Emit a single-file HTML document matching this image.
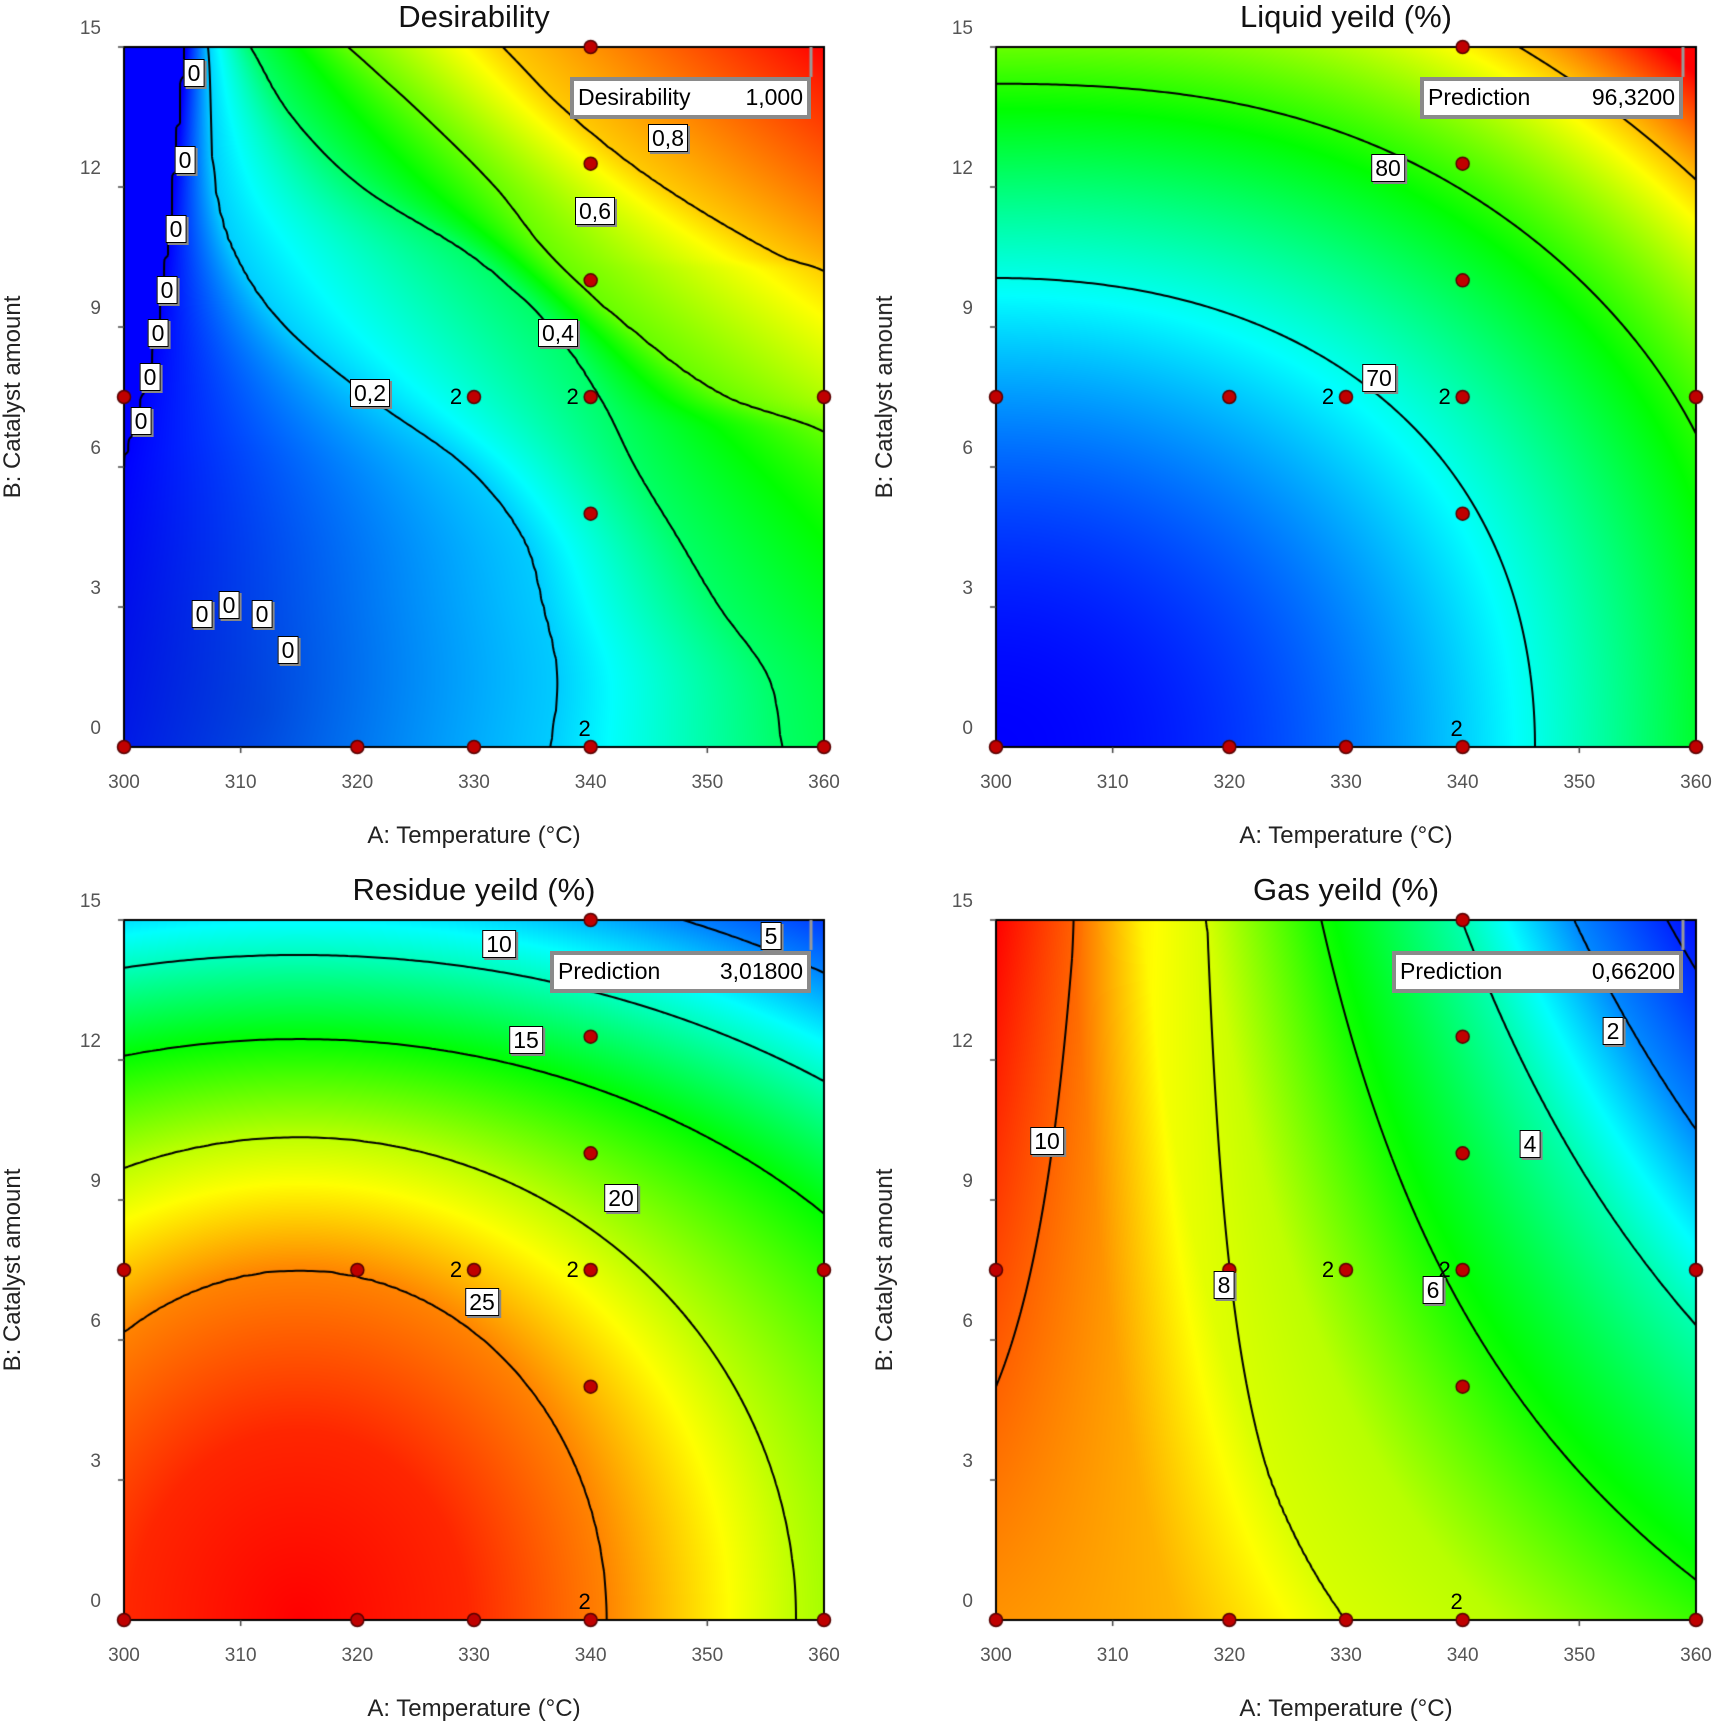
<!DOCTYPE html>
<html><head><meta charset="utf-8">
<style>
html,body{margin:0;padding:0;background:#fff;}
body{width:1717px;height:1726px;position:relative;overflow:hidden;font-family:"Liberation Sans",sans-serif;}
canvas{position:absolute;left:0;top:0;}
.tick{position:absolute;font-size:19px;color:#555;white-space:nowrap;}
.ttl{position:absolute;font-size:31px;color:#111;transform:translate(-50%,-50%);white-space:nowrap;}
.xl{position:absolute;font-size:24px;color:#222;transform:translate(-50%,-50%);white-space:nowrap;}
.yl{position:absolute;font-size:24px;color:#222;transform:translate(-50%,-50%) rotate(-90deg);white-space:nowrap;}
.lb{position:absolute;background:#fff;border:1.5px solid #000;font-size:23px;line-height:26px;padding:0 3px;transform:translate(-50%,-50%);box-shadow:2px 2px 0 #888;white-space:nowrap;}
.pb{position:absolute;background:#fff;border:4px solid #8a8a8a;font-size:23px;line-height:32px;padding:0 4px;display:flex;justify-content:space-between;box-sizing:border-box;}
.two{position:absolute;font-size:22px;transform:translate(-50%,-50%);}
</style></head><body>
<canvas id="c" width="1717" height="1726"></canvas>
<div id="txt"></div>
<script>
const P=[{ox:124,oy:47,t:"Desirability"},{ox:996,oy:47,t:"Liquid yeild (%)"},{ox:124,oy:920,t:"Residue yeild (%)"},{ox:996,oy:920,t:"Gas yeild (%)"}];
const W=700,H=700;
function lin(tab,v){if(v<=tab[0][0])return tab[0][1];for(let i=1;i<tab.length;i++){if(v<=tab[i][0]){const a=tab[i-1],b=tab[i];return a[1]+(b[1]-a[1])*(v-a[0])/(b[0]-a[0]);}}return tab[tab.length-1][1];}
function smooth(tab,v){const n=tab.length;if(v<=tab[0][0])return tab[0][1];if(v>=tab[n-1][0])return tab[n-1][1];
 let i=1;while(tab[i][0]<v)i++;const a=tab[i-1],b=tab[i];
 const sl=k=>{const p=tab[Math.max(0,k-1)],q=tab[Math.min(n-1,k+1)];return (q[1]-p[1])/(q[0]-p[0]);};
 const h=b[0]-a[0],t=(v-a[0])/h,m0=sl(i-1)*h,m1=sl(i)*h;
 const t2=t*t,t3=t2*t;return (2*t3-3*t2+1)*a[1]+(t3-2*t2+t)*m0+(-2*t3+3*t2)*b[1]+(t3-t2)*m1;}
const DT=[
[[0,-.1],[.2,-.05],[.4,0],[.6,.05],[1,.09]],
[[0,.61],[.1,.62],[.2,.6],[.3,.57],[.4,.49],[.5,.35],[.6,.23],[.7,.16],[.8,.13],[1,.12]],
[[0,.94],[.1,.92],[.2,.85],[.3,.79],[.4,.73],[.5,.68],[.6,.61],[.7,.5],[.8,.34],[.9,.24],[1,.18]],
[[0,1.5],[.3,1.2],[.45,1.0],[.5,.86],[.6,.72],[.7,.61],[.8,.53],[.9,.43],[1,.32]],
[[0,2],[.4,1.4],[.68,1.0],[.7,.94],[.8,.77],[.9,.64],[1,.54]],
[[0,2.6],[.5,1.7],[1,1.0]]];
const DL=[0,.2,.4,.6,.8,1];
let rowCache={};
function Dfun(x,y){const k=Math.round(y*3000);let xs=rowCache[k];if(!xs){xs=DT.map(t=>smooth(t,y));rowCache[k]=xs;}
 if(x<=xs[0])return 0; for(let i=1;i<xs.length;i++){if(x<=xs[i])return DL[i-1]+(DL[i]-DL[i-1])*(x-xs[i-1])/(xs[i]-xs[i-1]);}return 1;}
function Lfun(x,y){return 60+10*(x*x/0.5929+y*y/0.4489-1.2*x*x*y*y*(1-x*y));}
// residue: nested ellipses centred (0.25,0)
const RA=[[0,0.0001],[1,.24],[3.5,.44],[8.5,.71],[13.5,1.05],[18.5,1.28],[23.5,1.45],[27,1.6],[40,2.5]];
const RB=[[0,0.0001],[1,.27],[3.5,.5],[8.5,.69],[13.5,.83],[18.5,.95],[23.5,1.08],[27,1.2],[40,1.8]];
function Rfun(x,y){const dx=x-.25;let lo=0,hi=40;
 for(let it=0;it<22;it++){const m=(lo+hi)/2;const a=lin(RA,m),b=lin(RB,m);const f=dx*dx/(a*a)+y*y/(b*b);if(f>1)lo=m;else hi=m;}
 return 28.5-(lo+hi)/2;}
const GT=[[0,10.1],[.26,9.4],[.5,8.07],[.72,7.7],[1.08,6],[1.59,4],[1.98,2],[2.3,1],[2.5,0.5]];
function Gfun(x,y){const w=x*(1+1.4*y);return lin(GT,w)+1.5*(y-.4)*Math.pow(1-x,3);}
const F=[{f:Dfun,lo:0,hi:1,lv:[1e-4,.2,.4,.6,.8]},{f:Lfun,lo:60,hi:97,lv:[70,80,90]},{f:Rfun,lo:1.5,hi:28.5,lv:[5,10,15,20,25]},{f:Gfun,lo:0.6,hi:11,lv:[1,2,4,6,8,10]}];
function cmap(t){t=Math.max(0,Math.min(1,t));let r,g,b;
 if(t<.25){r=0;g=t/.25*255;b=255;}else if(t<.5){r=0;g=255;b=255*(1-(t-.25)/.25);}else if(t<.75){r=255*(t-.5)/.25;g=255;b=0;}else{r=255;g=255*(1-(t-.75)/.25);b=0;}
 return [r,g,b];}
const c=document.getElementById('c'),ctx=c.getContext('2d');
ctx.fillStyle='#fff';ctx.fillRect(0,0,1717,1726);
P.forEach((p,pi)=>{const fn=F[pi];const img=ctx.createImageData(W,H);
 for(let j=0;j<H;j++){const y=1-(j+.5)/H;for(let i=0;i<W;i++){const x=(i+.5)/W;let v=fn.f(x,y);let t=(v-fn.lo)/(fn.hi-fn.lo);
  const col=cmap(t);let r=col[0],g=col[1],b=col[2];
  if(pi==0){const d=Math.hypot(x-.2,y-.05);const k=Math.max(0,1-d/.4)*0.25*Math.max(0,1-t/.2);r*=1-k;g*=1-k;b*=1-k*0.9;}
  const o=(j*W+i)*4;img.data[o]=r;img.data[o+1]=g;img.data[o+2]=b;img.data[o+3]=255;}}
 ctx.putImageData(img,p.ox,p.oy);
 const N=175,st=W/N;const grid=[];for(let j=0;j<=N;j++){grid[j]=[];for(let i=0;i<=N;i++){grid[j][i]=fn.f(i/N,1-j/N);}}
 ctx.strokeStyle='#000';ctx.lineWidth=2;ctx.save();ctx.beginPath();ctx.rect(p.ox,p.oy,W,H);ctx.clip();
 fn.lv.forEach(L=>{ctx.beginPath();
  for(let j=0;j<N;j++)for(let i=0;i<N;i++){const a=grid[j][i],b=grid[j][i+1],cc=grid[j+1][i+1],d=grid[j+1][i];
   const pts=[];const e=(v1,v2,x1,y1,x2,y2)=>{if((v1<L)!=(v2<L)){const t=(L-v1)/(v2-v1);pts.push([x1+(x2-x1)*t,y1+(y2-y1)*t]);}};
   e(a,b,i,j,i+1,j);e(b,cc,i+1,j,i+1,j+1);e(cc,d,i+1,j+1,i,j+1);e(d,a,i,j+1,i,j);
   for(let k=0;k+1<pts.length;k+=2){ctx.moveTo(p.ox+pts[k][0]*st,p.oy+pts[k][1]*st);ctx.lineTo(p.ox+pts[k+1][0]*st,p.oy+pts[k+1][1]*st);}}
  ctx.stroke();});
 ctx.restore();
 ctx.strokeStyle='#000';ctx.lineWidth=2;ctx.strokeRect(p.ox,p.oy,W,H);
 ctx.lineWidth=1.5;ctx.strokeStyle='#444';
 for(let k=0;k<=6;k++){const X=p.ox+k*W/6;ctx.beginPath();ctx.moveTo(X,p.oy+H);ctx.lineTo(X,p.oy+H+6);ctx.stroke();}
 for(let k=0;k<=5;k++){const Y=p.oy+H-k*H/5;ctx.beginPath();ctx.moveTo(p.ox-6,Y);ctx.lineTo(p.ox,Y);ctx.stroke();}
 ctx.strokeStyle='#999';ctx.lineWidth=3;ctx.beginPath();ctx.moveTo(p.ox+W-13,p.oy);ctx.lineTo(p.ox+W-13,p.oy+30);ctx.stroke();
 const pts=[[300,0],[320,0],[330,0],[340,0],[360,0],[300,7.5],[320,7.5],[330,7.5],[340,7.5],[360,7.5],[340,5],[340,10],[340,12.5],[340,15]];
 pts.forEach(q=>{const X=p.ox+(q[0]-300)/60*W,Y=p.oy+H-q[1]/15*H;ctx.beginPath();ctx.arc(X,Y,6.5,0,7);ctx.fillStyle='#c00000';ctx.fill();ctx.lineWidth=1.5;ctx.strokeStyle='#500';ctx.stroke();});
});
let h='';
P.forEach((p,pi)=>{
 h+=`<div class="ttl" style="left:${p.ox+350}px;top:${p.oy-30}px">${p.t}</div>`;
 for(let k=0;k<=6;k++){h+=`<div class="tick" style="left:${p.ox+k*W/6}px;top:${p.oy+H+36}px;transform:translate(-50%,-50%)">${300+10*k}</div>`;}
 for(let k=0;k<=5;k++){h+=`<div class="tick" style="right:${1717-p.ox+23}px;top:${p.oy+H-k*H/5-18}px;transform:translateY(-50%)">${3*k}</div>`;}
 h+=`<div class="xl" style="left:${p.ox+350}px;top:${p.oy+H+89}px">A: Temperature (°C)</div>`;
 h+=`<div class="yl" style="left:${p.ox-111}px;top:${p.oy+H/2}px">B: Catalyst amount</div>`;
 const X=v=>p.ox+(v-300)/60*W,Y=v=>p.oy+H-v/15*H;
 h+=`<div class="two" style="left:${X(330)-18}px;top:${Y(7.5)}px">2</div><div class="two" style="left:${X(340)-18}px;top:${Y(7.5)}px">2</div><div class="two" style="left:${X(340)-6}px;top:${Y(0)-18}px">2</div>`;
});
const labs=[[668,138,"0,8"],[595,211,"0,6"],[558,333,"0,4"],[370,393,"0,2"],[194,73,"0"],[185,160,"0"],[176,229,"0"],[167,290,"0"],[158,333,"0"],[150,377,"0"],[141,421,"0"],[202,614,"0"],[229,605,"0"],[262,614,"0"],[288,650,"0"],
[1388,168,"80"],[1379,378,"70"],
[499,944,"10"],[771,936,"5"],[526,1040,"15"],[621,1198,"20"],[482,1302,"25"],
[1047,1141,"10"],[1224,1285,"8"],[1433,1290,"6"],[1530,1144,"4"],[1613,1031,"2"]];
labs.forEach(l=>{h+=`<div class="lb" style="left:${l[0]}px;top:${l[1]}px">${l[2]}</div>`;});
const pbs=[[570,77,241,"Desirability","1,000"],[1420,77,263,"Prediction","96,3200"],[550,951,261,"Prediction","3,01800"],[1392,951,291,"Prediction","0,66200"]];
pbs.forEach(b=>{h+=`<div class="pb" style="left:${b[0]}px;top:${b[1]}px;width:${b[2]}px;height:42px"><span>${b[3]}</span><span>${b[4]}</span></div>`;});
document.getElementById('txt').innerHTML=h;
</script>
</body></html>
